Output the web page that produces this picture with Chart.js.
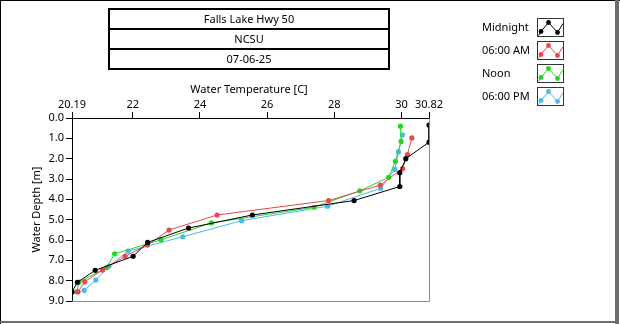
<!DOCTYPE html>
<html>
<head>
<meta charset="utf-8">
<script src="https://cdn.jsdelivr.net/npm/chart.js@4.4.1/dist/chart.umd.min.js"></script>
<style>
  html, body { margin: 0; padding: 0; background: #fff; }
  canvas { display: block; }
</style>
</head>
<body>
<canvas id="profile" width="620" height="324"></canvas>
<script>
const titleLines = ['Falls Lake Hwy 50', 'NCSU', '07-06-25'];
const seriesNames = ['Midnight', '06:00 AM', 'Noon', '06:00 PM'];
const seriesColors = ['#000000', '#e8474b', '#22d622', '#4db6ee'];

// depth [m] / temperature [C] per profile
const midnightDepth = [0.35, 1.19, 2.00, 2.69, 3.37, 4.06, 4.77, 5.41, 6.12, 6.80, 7.49, 8.08, 8.56];
const midnightTemp  = [30.82, 30.82, 30.13, 29.95, 29.95, 28.59, 25.56, 23.66, 22.44, 22.01, 20.88, 20.35, 20.19];
const morningDepth  = [0.98, 1.80, 2.49, 3.30, 4.06, 4.77, 5.51, 6.25, 6.80, 7.48, 8.05, 8.55];
const morningTemp   = [30.31, 30.18, 30.03, 29.37, 27.83, 24.51, 23.08, 22.44, 21.77, 21.10, 20.57, 20.37];
const noonDepth     = [0.40, 1.15, 2.13, 2.92, 3.58, 4.39, 5.16, 5.99, 6.68, 7.36, 8.07, 8.55];
const noonTemp      = [29.97, 29.99, 29.82, 29.62, 28.76, 27.40, 24.34, 22.84, 21.46, 21.22, 20.40, 20.33];
const eveningDepth  = [0.83, 1.67, 2.53, 3.46, 4.34, 5.05, 5.84, 6.55, 7.28, 7.97, 8.48];
const eveningTemp   = [30.03, 29.91, 29.80, 29.38, 27.80, 25.24, 23.49, 21.86, 21.29, 20.90, 20.55];

const tempTicks = [20.19, 22, 24, 26, 28, 30, 30.82];
const depthMin = 0, depthMax = 9;

const FONT = '"Noto Sans", "DejaVu Sans", sans-serif';
Chart.defaults.font.family = FONT;
Chart.defaults.font.size = 11;
Chart.defaults.color = '#000';

const profiles = [
  [midnightTemp, midnightDepth],
  [morningTemp, morningDepth],
  [noonTemp, noonDepth],
  [eveningTemp, eveningDepth],
];

const datasets = profiles.map(([temp, depth], i) => ({
  label: seriesNames[i],
  data: temp.map((t, k) => ({ x: t, y: depth[k] })),
  showLine: true,
  borderColor: seriesColors[i],
  backgroundColor: seriesColors[i],
  borderWidth: 1,
  pointRadius: 2.6,
  pointBorderWidth: 0,
  pointHoverRadius: 2.6,
  tension: 0,
  clip: 0,
}));

// frame, header boxes, axis titles and the side legend
const decor = {
  id: 'decor',
  afterDraw(chart) {
    const { ctx, chartArea: a } = chart;
    ctx.save();

    // outer panel border
    ctx.fillStyle = '#000';
    ctx.fillRect(0, 0, 620, 1);
    ctx.fillRect(0, 0, 1, 324);
    ctx.fillStyle = '#6d6d6d';
    ctx.fillRect(615, 0, 4, 324);
    ctx.fillRect(0, 321, 619, 2);

    // plot frame right/bottom
    ctx.strokeStyle = '#8a8a8a';
    ctx.lineWidth = 1;
    ctx.beginPath();
    ctx.moveTo(Math.round(a.right) + 0.5, a.top);
    ctx.lineTo(Math.round(a.right) + 0.5, Math.round(a.bottom) + 0.5);
    ctx.lineTo(a.left, Math.round(a.bottom) + 0.5);
    ctx.stroke();

    // header boxes
    const bx = 109, bw = 280, by = 9, bh = 20;
    ctx.strokeStyle = '#000';
    ctx.lineWidth = 2;
    ctx.font = '11px ' + FONT;
    ctx.fillStyle = '#000';
    ctx.textAlign = 'center';
    ctx.textBaseline = 'middle';
    titleLines.forEach((t, i) => {
      ctx.strokeRect(bx, by + i * bh, bw, bh);
      ctx.fillText(t, bx + bw / 2, by + i * bh + bh / 2 + 0.5);
    });

    // axis titles
    ctx.fillText('Water Temperature [C]', 249, 90);
    ctx.save();
    ctx.translate(37, (a.top + a.bottom) / 2);
    ctx.rotate(-Math.PI / 2);
    ctx.fillText('Water Depth [m]', 0, 0);
    ctx.restore();

    // legend: name then sample icon
    ctx.textAlign = 'left';
    seriesNames.forEach((name, i) => {
      const cy = 28 + i * 23;
      ctx.fillStyle = '#000';
      ctx.fillText(name, 482, cy);
      const ix = 537.5, iy = cy - 9.5;
      ctx.lineWidth = 1;
      ctx.strokeStyle = '#333';
      ctx.strokeRect(ix, iy, 26, 18);
      const pts = [[1, 17], [3.5, 13], [11, 4], [20, 14], [25.5, 5]];
      ctx.strokeStyle = seriesColors[i];
      ctx.beginPath();
      pts.forEach(([px, py], k) => k ? ctx.lineTo(ix + px, iy + py) : ctx.moveTo(ix + px, iy + py));
      ctx.stroke();
      ctx.fillStyle = seriesColors[i];
      pts.slice(1, 4).forEach(([px, py]) => {
        ctx.beginPath();
        ctx.arc(ix + px, iy + py, 2.4, 0, Math.PI * 2);
        ctx.fill();
      });
    });

    ctx.restore();
  },
};

new Chart(document.getElementById('profile'), {
  type: 'scatter',
  data: { datasets },
  options: {
    responsive: false,
    animation: false,
    events: [],
    layout: { padding: { left: 0, top: 0, right: 191, bottom: 23 } },
    plugins: { legend: { display: false }, tooltip: { enabled: false } },
    scales: {
      x: {
        type: 'linear',
        position: 'top',
        min: tempTicks[0],
        max: tempTicks[tempTicks.length - 1],
        afterBuildTicks(scale) {
          scale.ticks = tempTicks.map(v => ({ value: v }));
        },
        afterFit(scale) { scale.height = 118; },
        ticks: {
          padding: 1,
          autoSkip: false,
          maxRotation: 0,
          callback: v => String(v),
        },
        grid: { drawOnChartArea: false, drawTicks: true, tickLength: 6, color: '#000' },
        border: { display: true, color: '#000' },
      },
      y: {
        type: 'linear',
        reverse: true,
        min: depthMin,
        max: depthMax,
        afterFit(scale) { scale.width = 72; },
        ticks: { stepSize: 1, padding: 2, callback: v => v.toFixed(1) },
        grid: { drawOnChartArea: false, drawTicks: true, tickLength: 6, color: '#000' },
        border: { display: true, color: '#000' },
      },
    },
  },
  plugins: [decor],
});
</script>
</body>
</html>
